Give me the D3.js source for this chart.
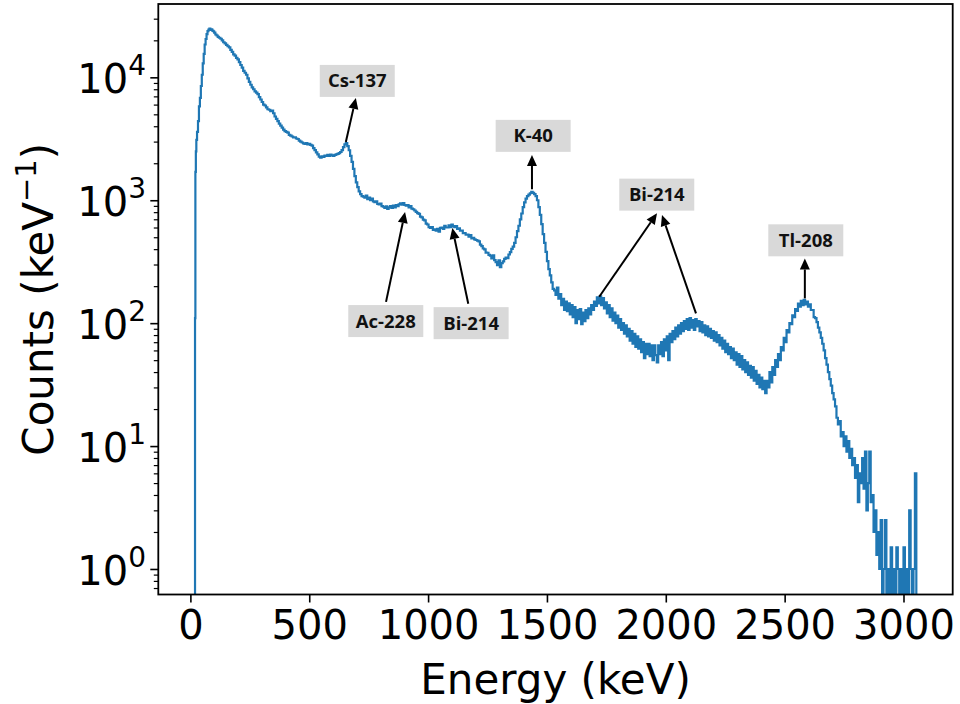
<!DOCTYPE html>
<html><head><meta charset="utf-8">
<script src="https://cdn.jsdelivr.net/npm/d3@7"></script>
<style>body{margin:0;background:#fff} svg{display:block}</style>
</head><body><svg id="c" width="960" height="704"></svg>
<script>
// Spectrum: [energy keV, counts per keV]
const spectrum = [
[18,0],[19.5,110],[21,1700],[23,2500],[25,3100],[28,3600],[32,4400],[36,5800],[40,6800],[44,8500],[48,10500],[52,13000],[56,15500],[60,18500],[64,20500],[68,22500],[72,23800],[76,24500],[80,24900],[84,24300],[88,24600],[92,24000],[96,23700],[100,23100],[105,22300],[110,21900],[115,21300],[120,21000],[126,20600],[132,20000],[138,19300],[144,18900],[150,18400],[156,17900],[162,17500],[168,16700],[174,16100],[180,15400],[186,15000],[192,14400],[198,14000],[204,13300],[210,12600],[216,12000],[222,11300],[228,10900],[234,10500],[240,9800],[246,9200],[252,8700],[258,8300],[264,8000],[270,7700],[276,7500],[282,7300],[288,6900],[294,6600],[300,6300],[306,6000],[312,5900],[318,5700],[324,5500],[330,5450],[336,5300],[342,5350],[348,5100],[354,4800],[360,4600],[366,4400],[372,4200],[378,4050],[384,3900],[390,3750],[396,3650],[402,3600],[408,3550],[414,3400],[420,3350],[426,3300],[432,3250],[438,3250],[444,3180],[450,3150],[456,3050],[462,3000],[468,2950],[474,2900],[480,2870],[486,2920],[492,2850],[498,2880],[504,2820],[510,2780],[516,2650],[522,2560],[528,2450],[534,2360],[540,2260],[546,2220],[552,2280],[558,2250],[564,2310],[570,2290],[576,2340],[582,2300],[588,2350],[594,2320],[600,2300],[606,2340],[612,2360],[618,2380],[624,2420],[630,2470],[636,2560],[642,2700],[648,2850],[654,2920],[660,2760],[666,2550],[672,2300],[678,2050],[684,1800],[690,1570],[696,1400],[702,1280],[708,1180],[714,1120],[720,1080],[726,1070],[732,1050],[738,1090],[744,1020],[750,1050],[756,1000],[762,1030],[768,980],[774,965],[780,980],[786,935],[792,925],[798,940],[804,895],[810,885],[816,865],[822,890],[828,850],[834,875],[840,895],[846,865],[852,905],[858,875],[864,915],[870,895],[876,925],[882,945],[888,920],[894,950],[900,915],[906,905],[912,915],[918,875],[924,895],[930,855],[936,845],[942,825],[948,805],[954,785],[960,775],[966,735],[972,725],[978,695],[984,685],[990,645],[996,635],[1002,605],[1008,595],[1014,605],[1020,575],[1026,580],[1032,565],[1038,585],[1044,555],[1050,595],[1056,600],[1062,585],[1068,620],[1074,600],[1080,600],[1086,625],[1092,605],[1098,635],[1104,615],[1110,605],[1116,615],[1122,585],[1128,590],[1134,565],[1140,565],[1146,540],[1152,540],[1158,525],[1164,525],[1170,505],[1176,520],[1182,490],[1188,495],[1194,480],[1200,475],[1206,470],[1212,462],[1218,436],[1224,424],[1230,405],[1236,398],[1242,375],[1248,374],[1254,360],[1260,354],[1266,336],[1272,356],[1278,326],[1284,314],[1290,296],[1296,324],[1302,286],[1308,308],[1314,318],[1320,334],[1326,342],[1332,338],[1338,362],[1344,378],[1350,402],[1356,420],[1362,450],[1368,500],[1374,560],[1380,620],[1386,700],[1392,780],[1398,880],[1404,960],[1410,1030],[1416,1080],[1422,1110],[1428,1140],[1434,1170],[1440,1150],[1446,1120],[1452,1080],[1458,1000],[1464,880],[1470,760],[1476,640],[1482,530],[1488,450],[1494,380],[1500,320],[1506,275],[1512,245],[1518,215],[1524,190],[1530,185],[1536,170],[1542,195],[1548,158],[1554,172],[1560,140],[1566,158],[1572,128],[1578,150],[1584,125],[1590,145],[1596,118],[1602,140],[1608,112],[1614,135],[1620,100],[1626,128],[1632,108],[1638,130],[1644,98],[1650,122],[1656,104],[1662,128],[1668,110],[1674,132],[1680,118],[1686,140],[1692,128],[1698,150],[1704,138],[1710,162],[1716,145],[1722,165],[1728,140],[1734,160],[1740,132],[1746,148],[1752,120],[1758,140],[1764,112],[1770,132],[1776,105],[1782,122],[1788,100],[1794,115],[1800,92],[1806,108],[1812,88],[1818,100],[1824,82],[1830,96],[1836,78],[1842,90],[1848,72],[1854,86],[1860,68],[1866,82],[1872,64],[1878,78],[1884,62],[1890,74],[1896,58],[1902,70],[1908,52],[1914,68],[1920,56],[1926,68],[1932,54],[1938,66],[1944,50],[1950,66],[1956,55],[1962,48],[1968,66],[1974,56],[1980,70],[1986,54],[1992,74],[1998,60],[2004,78],[2010,50],[2016,82],[2022,70],[2028,86],[2034,74],[2040,92],[2046,78],[2052,96],[2058,82],[2064,100],[2070,86],[2076,104],[2082,90],[2088,108],[2094,88],[2100,110],[2106,92],[2112,106],[2118,88],[2124,108],[2130,94],[2136,104],[2142,86],[2148,102],[2154,84],[2160,96],[2166,80],[2172,94],[2178,78],[2184,90],[2190,76],[2196,86],[2202,72],[2208,84],[2214,70],[2220,80],[2226,66],[2232,76],[2238,62],[2244,72],[2250,58],[2256,68],[2262,56],[2268,64],[2274,52],[2280,62],[2286,50],[2292,58],[2298,46],[2304,56],[2310,44],[2316,54],[2322,42],[2328,50],[2334,40],[2340,48],[2346,38],[2352,45],[2358,36],[2364,44],[2370,34],[2376,41],[2382,32],[2388,38],[2394,30],[2400,36],[2406,29],[2412,34],[2418,27],[2424,34],[2430,30],[2436,40],[2442,33],[2448,44],[2454,38],[2460,50],[2466,44],[2472,56],[2478,50],[2484,64],[2490,60],[2496,76],[2502,70],[2508,88],[2514,84],[2520,100],[2526,98],[2532,116],[2538,112],[2544,130],[2550,126],[2556,144],[2562,136],[2568,152],[2574,140],[2580,155],[2586,142],[2592,150],[2598,136],[2604,142],[2610,128],[2616,128],[2622,112],[2628,110],[2634,102],[2640,92],[2646,84],[2652,76],[2658,68],[2664,60],[2670,52],[2676,46],[2682,40],[2688,35],[2694,31],[2700,27],[2706,24],[2712,21],[2718,17],[2724,15],[2730,16],[2736,12],[2742,13],[2748,10],[2754,12],[2760,9],[2766,11],[2772,8],[2778,9.5],[2784,7],[2790,8],[2796,5.5],[2802,7],[2808,3.5],[2814,6],[2820,5],[2826,8],[2832,4.5],[2838,9],[2844,3],[2850,5],[2856,9],[2862,3.5],[2868,4],[2874,2],[2880,3],[2886,1.3],[2892,2],[2898,1],[2904,2.5],[2910,0],[2916,1],[2922,2.5],[2928,0],[2934,1],[2940,0],[2946,1.5],[2952,0],[2958,1],[2964,0],[2970,1.5],[2976,1],[2982,0],[2988,1],[2994,0],[3000,1.5],[3006,0],[3012,1],[3018,0],[3024,3],[3030,1],[3036,0],[3042,1],[3048,6],[3054,0]
];
const xTickValues = [0, 500, 1000, 1500, 2000, 2500, 3000];
const yTickExponents = [0, 1, 2, 3, 4];
// Annotation boxes (label, centre energy, centre counts)
const labelNames  = ["Cs-137", "K-40", "Bi-214", "Tl-208", "Ac-228", "Bi-214"];
const labelEnergy = [702, 1442, 1962, 2589, 822, 1181];
const labelCounts = [9350, 3340, 1111, 472, 104, 100];
// Arrows: start energy/counts -> tip energy/counts
const arrowFromE = [654, 1437, 1720, 2127, 2585, 823, 1169];
const arrowFromC = [2980, 1228, 164, 120, 159, 149, 144];
const arrowToE   = [696, 1437, 1963, 1984, 2585, 903, 1102];
const arrowToC   = [6800, 2337, 784, 759, 336, 803, 595];

const svg = d3.select("#c");
const L = 158.3, R = 952.7, T = 4, B = 594.5;
const x = d3.scaleLinear().domain([-135, 3207]).range([L, R]);
const y = d3.scaleLog().domain([0.62, 39500]).range([B, T]);

svg.append("defs").append("clipPath").attr("id", "clip")
  .append("rect").attr("x", L).attr("y", T).attr("width", R - L).attr("height", B - T);

// spectrum line
const line = d3.line()
  .x(d => x(d[0]))
  .y(d => d[1] > 0 ? y(d[1]) : B + 40)
  .curve(d3.curveStepAfter);
svg.append("path").datum(spectrum)
  .attr("clip-path", "url(#clip)")
  .attr("fill", "none").attr("stroke", "#1f77b4")
  .attr("stroke-width", 2.2).attr("stroke-linejoin", "miter")
  .attr("d", line);

// x axis
const xAxis = svg.append("g").attr("transform", `translate(0,${B})`)
  .call(d3.axisBottom(x).tickValues(xTickValues).tickSize(8).tickPadding(8).tickFormat(d3.format("d")));
xAxis.select(".domain").remove();
xAxis.selectAll("line").attr("stroke", "#000").attr("stroke-width", 1.6);
xAxis.selectAll("text").attr("font-family", "DejaVu Sans").attr("font-size", 40).attr("fill", "#000");

// y axis major
const yAxis = svg.append("g").attr("transform", `translate(${L},0)`)
  .call(d3.axisLeft(y).tickValues(yTickExponents.map(k => Math.pow(10, k))).tickSize(8).tickFormat(""));
yAxis.select(".domain").remove();
yAxis.selectAll("line").attr("stroke", "#000").attr("stroke-width", 1.6);
// y axis minor
const minor = [];
for (let k = -1; k <= 4; k++) for (let m = 2; m <= 9; m++) {
  const v = m * Math.pow(10, k);
  if (v >= 0.62 && v <= 39500) minor.push(v);
}
const yMinor = svg.append("g").attr("transform", `translate(${L},0)`)
  .call(d3.axisLeft(y).tickValues(minor).tickSize(4.5).tickFormat(""));
yMinor.select(".domain").remove();
yMinor.selectAll("line").attr("stroke", "#000").attr("stroke-width", 1.2);

// y tick labels 10^k
yTickExponents.forEach(k => {
  const t = svg.append("text")
    .attr("x", 146).attr("y", y(Math.pow(10, k)) + 16)
    .attr("text-anchor", "end").attr("font-family", "DejaVu Sans").attr("fill", "#000");
  t.append("tspan").attr("font-size", 40).text("10");
  t.append("tspan").attr("font-size", 28).attr("dy", -18).text(String(k));
});

// frame
svg.append("rect").attr("x", L).attr("y", T).attr("width", R - L).attr("height", B - T)
  .attr("fill", "none").attr("stroke", "#000").attr("stroke-width", 1.8);

// axis labels
svg.append("text").attr("x", (L + R) / 2).attr("y", 694)
  .attr("text-anchor", "middle").attr("font-family", "DejaVu Sans").attr("font-size", 42)
  .attr("fill", "#000").text("Energy (keV)");
const yl = svg.append("text")
  .attr("transform", `translate(53,${(T + B) / 2}) rotate(-90)`)
  .attr("text-anchor", "middle").attr("font-family", "DejaVu Sans").attr("font-size", 42).attr("fill", "#000");
yl.append("tspan").text("Counts (keV");
yl.append("tspan").attr("font-size", 29).attr("dy", -17).text("\u22121");
yl.append("tspan").attr("dy", 17).text(")");

// arrows
const headLen = 11, headHalf = 5;
arrowFromE.forEach((e, i) => {
  const x0 = x(e), y0 = y(arrowFromC[i]), x1 = x(arrowToE[i]), y1 = y(arrowToC[i]);
  const dx = x1 - x0, dy = y1 - y0, len = Math.hypot(dx, dy);
  const ux = dx / len, uy = dy / len;
  const bx = x1 - ux * headLen, by = y1 - uy * headLen;
  svg.append("line").attr("x1", x0).attr("y1", y0).attr("x2", bx).attr("y2", by)
    .attr("stroke", "#000").attr("stroke-width", 2);
  svg.append("path")
    .attr("d", `M${x1},${y1}L${bx - uy * headHalf},${by + ux * headHalf}L${bx + uy * headHalf},${by - ux * headHalf}Z`)
    .attr("fill", "#000");
});

// label boxes
labelNames.forEach((n, i) => {
  const cx = x(labelEnergy[i]), cy = y(labelCounts[i]);
  svg.append("rect").attr("x", cx - 37.5).attr("y", cy - 16).attr("width", 75).attr("height", 32)
    .attr("fill", "#d9d9d9");
  svg.append("text").attr("x", cx).attr("y", cy + 6.5)
    .attr("text-anchor", "middle").attr("font-family", "Open Sans").attr("font-weight", 700)
    .attr("font-size", 18.5).attr("fill", "#111").text(n);
});
</script></body></html>
